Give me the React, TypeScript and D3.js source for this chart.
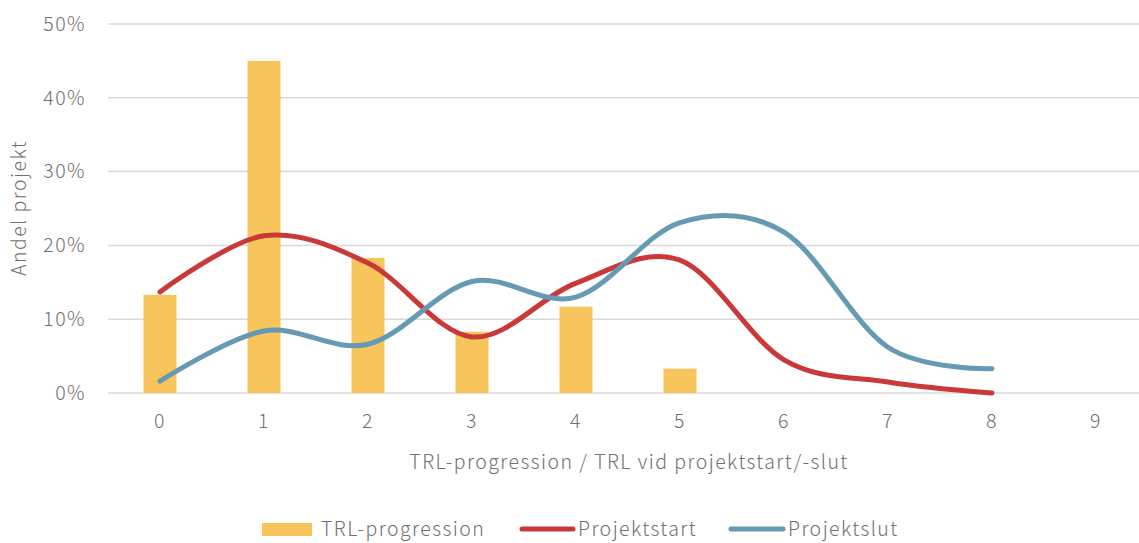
import React, { useEffect, useRef } from 'react';
import * as d3 from 'd3';

const categories = ['0', '1', '2', '3', '4', '5', '6', '7', '8', '9'];
const trlProgression = [13.3, 45, 18.3, 8.3, 11.7, 3.3];
const projektstart = [13.7, 21.3, 17.6, 7.6, 14.9, 18.0, 4.5, 1.5, 0];
const projektslut = [1.6, 8.4, 6.6, 15.1, 13.0, 23.1, 21.8, 6.2, 3.3];
const yTicks = [0, 10, 20, 30, 40, 50];

const FONT = '"Noto Sans CJK JP", "Noto Sans", sans-serif';
const TEXT = '#707070';
const LS = '1.45px';
const FS = 19.5;

export default function App() {
  const svgRef = useRef<SVGSVGElement>(null);

  useEffect(() => {
    const w = 1139;
    const h = 543;
    const svg = d3.select(svgRef.current);
    svg.selectAll('*').remove();
    svg
      .attr('width', w)
      .attr('height', h)
      .style('font-family', FONT)
      .style('font-weight', 300)
      .style('letter-spacing', LS);

    const x = d3.scaleBand().domain(categories).range([108, 1148]);
    const y = d3.scaleLinear().domain([0, 50]).range([393, 24]);
    const cx = (i: number) => (x(categories[i]) as number) + x.bandwidth() / 2;

    // gridlines
    svg
      .selectAll('.grid')
      .data(yTicks)
      .join('line')
      .attr('x1', 108)
      .attr('x2', w)
      .attr('y1', (d) => y(d))
      .attr('y2', (d) => y(d))
      .attr('stroke', '#d9d9d9')
      .attr('stroke-width', 1.5);

    svg
      .selectAll('.ytick')
      .data(yTicks)
      .join('text')
      .attr('x', 86)
      .attr('y', (d) => y(d))
      .attr('dy', '0.35em')
      .attr('text-anchor', 'end')
      .attr('font-size', FS)
      .attr('fill', TEXT)
      .text((d) => d + '%');

    svg
      .selectAll('.xtick')
      .data(categories)
      .join('text')
      .attr('x', (d, i) => cx(i))
      .attr('y', 421)
      .attr('dy', '0.35em')
      .attr('text-anchor', 'middle')
      .attr('font-size', FS)
      .attr('fill', TEXT)
      .text((d) => d);

    // bars
    const bw = 33;
    svg
      .selectAll('.bar')
      .data(trlProgression)
      .join('rect')
      .attr('x', (d, i) => cx(i) - bw / 2)
      .attr('y', (d) => y(d))
      .attr('width', bw)
      .attr('height', (d) => y(0) - y(d))
      .attr('fill', '#f7c55b');

    const line = d3
      .line<number>()
      .x((d, i) => cx(i))
      .y((d) => y(d))
      .curve(d3.curveCardinal);

    const series = [
      { data: projektstart, color: '#c9393a' },
      { data: projektslut, color: '#6699b3' },
    ];
    series.forEach((s) => {
      svg
        .append('path')
        .attr('d', line(s.data))
        .attr('fill', 'none')
        .attr('stroke', s.color)
        .attr('stroke-width', 5)
        .attr('stroke-linecap', 'round');
    });

    // axis titles
    svg
      .append('text')
      .attr('transform', 'translate(26,208) rotate(-90)')
      .attr('text-anchor', 'middle')
      .attr('font-size', FS)
      .attr('fill', TEXT)
      .text('Andel projekt');

    svg
      .append('text')
      .attr('x', 629)
      .attr('y', 462)
      .attr('dy', '0.35em')
      .attr('text-anchor', 'middle')
      .attr('font-size', FS)
      .attr('fill', TEXT)
      .text('TRL-progression / TRL vid projektstart/-slut');

    // legend
    const ly = 529;
    const lg = svg.append('g');
    lg.append('rect').attr('x', 262).attr('y', ly - 6).attr('width', 50).attr('height', 13).attr('fill', '#f7c55b');
    lg.append('text').attr('x', 321).attr('y', ly).attr('dy', '0.35em').attr('font-size', FS).attr('fill', TEXT).text('TRL-progression');
    lg.append('line').attr('x1', 522).attr('x2', 573).attr('y1', ly).attr('y2', ly).attr('stroke', '#c9393a').attr('stroke-width', 5).attr('stroke-linecap', 'round');
    lg.append('text').attr('x', 578).attr('y', ly).attr('dy', '0.35em').attr('font-size', FS).attr('fill', TEXT).text('Projektstart');
    lg.append('line').attr('x1', 731).attr('x2', 783).attr('y1', ly).attr('y2', ly).attr('stroke', '#6699b3').attr('stroke-width', 5).attr('stroke-linecap', 'round');
    lg.append('text').attr('x', 788).attr('y', ly).attr('dy', '0.35em').attr('font-size', FS).attr('fill', TEXT).text('Projektslut');
  }, []);

  return (
    <div>
      <svg ref={svgRef} style={{ position: 'absolute', left: 0, top: 0, display: 'block' }}></svg>
    </div>
  );
}
